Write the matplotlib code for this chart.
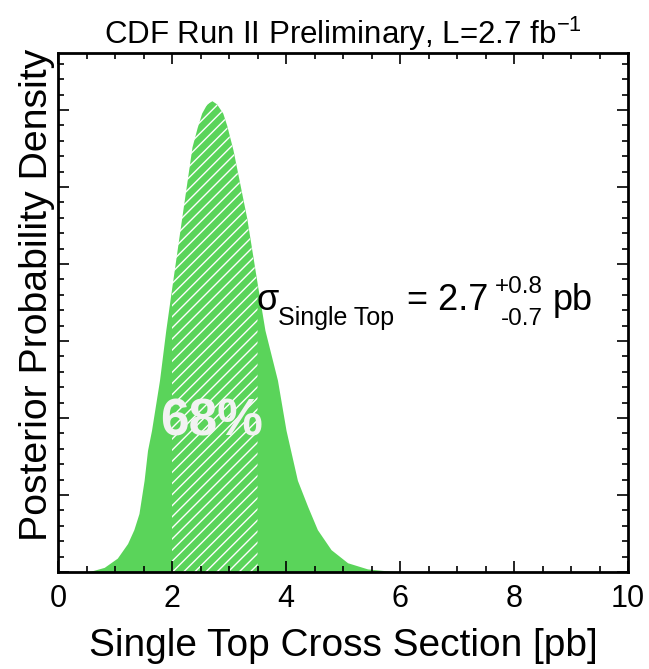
import numpy as np
import matplotlib
matplotlib.use("Agg")
import matplotlib.pyplot as plt
from matplotlib.ticker import MultipleLocator

plt.rcParams['font.family'] = ['Liberation Sans', 'DejaVu Sans']
plt.rcParams['mathtext.default'] = 'regular'
plt.rcParams['hatch.linewidth'] = 1.0

# Posterior density of the single top cross section (pb)
xsec = [0.0, 0.4, 0.57, 0.81, 1.04, 1.22, 1.33, 1.42, 1.51, 1.57, 1.64,
        1.78, 1.89, 2.0, 2.17, 2.35, 2.44, 2.52, 2.61, 2.70, 2.78, 2.89,
        2.96, 3.07, 3.31, 3.50, 3.63, 3.85, 4.0, 4.08, 4.20, 4.38, 4.55,
        4.79, 5.08, 5.43, 5.84, 6.2, 10.0]
density = [0.0, 0.0, 0.001, 0.006, 0.018, 0.037, 0.055, 0.076, 0.119, 0.158,
           0.184, 0.249, 0.314, 0.372, 0.460, 0.552, 0.577, 0.596, 0.608,
           0.612, 0.608, 0.596, 0.580, 0.548, 0.460, 0.372, 0.314, 0.249,
           0.184, 0.158, 0.119, 0.085, 0.055, 0.029, 0.012, 0.004, 0.001,
           0.0, 0.0]

# 68% credible interval
band_lo, band_hi = 2.0, 3.5

green = '#5ad45a'

x = np.array(xsec)
y = np.array(density)

fig = plt.figure(figsize=(6.49, 6.69), dpi=100)
fig.patch.set_facecolor('white')
ax = fig.add_axes([0.0894, 0.145, 0.8783, 0.7758])

ax.fill_between(x, 0, y, color=green, linewidth=0)
band = (x >= band_lo) & (x <= band_hi)
ax.fill_between(x, 0, y, where=band, facecolor='none', edgecolor='white',
                hatch='///', linewidth=0)

ax.set_xlim(0, 10)
ax.set_ylim(0, 0.674)

ax.xaxis.set_major_locator(MultipleLocator(2))
ax.xaxis.set_minor_locator(MultipleLocator(0.5))
ax.yaxis.set_major_locator(MultipleLocator(0.1))
ax.yaxis.set_minor_locator(MultipleLocator(0.02))
ax.tick_params(which='both', direction='in', top=True, right=True,
               width=1.2, color='black')
ax.tick_params(which='major', length=8, labelsize=22, pad=9)
ax.tick_params(which='minor', length=4)
ax.tick_params(axis='y', labelleft=False)
for s in ax.spines.values():
    s.set_linewidth(2)

ax.set_xlabel('Single Top Cross Section [pb]', fontsize=28, labelpad=10)
ax.set_ylabel('Posterior Probability Density', fontsize=28.3)
ax.yaxis.set_label_coords(-0.006, 0.534)
ax.set_title(r'CDF Run II Preliminary, L=2.7 fb$^{-1}$', fontsize=22.5, pad=6)

ax.text(2.7, 0.195, '68%', color='#f2f2f2', fontsize=37, fontweight='bold',
        ha='center', va='center')

# cross section result, built piece by piece around the sigma baseline
anchor = (3.49, 0.3405)
pieces = [
    ('\u03c3', 0, 0, 26, 'left'),
    ('Single Top', 21, -15, 18, 'left'),
    ('= 2.7', 150, 0, 26, 'left'),
    ('+0.8', 286, 17, 17.5, 'right'),
    ('-0.7', 286, -15, 17.5, 'right'),
    ('pb', 296, 0, 26, 'left'),
]
for txt, dx, dy, size, ha in pieces:
    ax.annotate(txt, xy=anchor, xytext=(dx, dy), textcoords='offset pixels',
                fontsize=size, ha=ha, va='baseline')

fig.savefig('out.png', dpi=100)
